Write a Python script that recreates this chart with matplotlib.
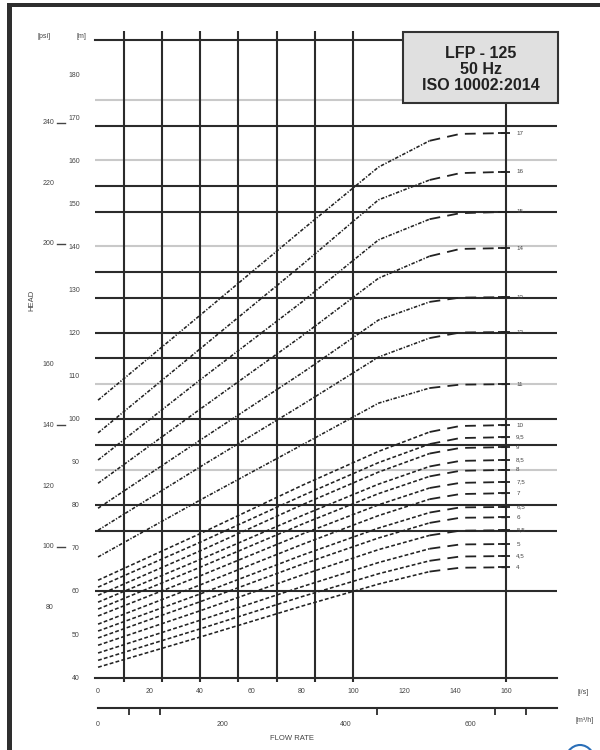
import matplotlib.pyplot as plt
from matplotlib.patches import Rectangle, Circle
from matplotlib.transforms import blended_transform_factory

plt.rcParams['font.family'] = ['Liberation Sans', 'DejaVu Sans']

# flow points (l/s) shared by every curve
flow = [0, 40, 80, 110, 130, 142, 160]

# steep curves, head in m
upper_curves = [
    [104.3, 124.0, 143.8, 158.4, 164.5, 166.1, 166.3],
    [96.7, 116.2, 135.7, 150.8, 155.4, 157.0, 157.3],
    [90.4, 109.0, 127.1, 141.5, 146.3, 147.7, 148.0],
    [85.0, 102.2, 119.2, 132.6, 137.7, 139.4, 139.6],
    [79.2, 95.0, 110.6, 122.9, 127.1, 128.1, 128.2],
    [74.1, 88.8, 103.2, 114.3, 118.7, 120.0, 120.1],
    [67.9, 81.1, 93.9, 103.6, 107.1, 107.9, 108.0],
]
upper_labels = ["17", "16", "15", "14", "13", "12", "11"]

# flatter curves
lower_curves = [
    [62.5, 73.3, 84.5, 92.4, 96.9, 98.3, 98.5],
    [60.9, 71.3, 82.1, 89.8, 94.1, 95.5, 95.7],
    [59.0, 69.3, 80.0, 87.6, 91.9, 93.2, 93.4],
    [57.4, 67.3, 77.5, 84.8, 88.9, 90.2, 90.4],
    [55.8, 65.5, 75.5, 82.6, 86.6, 87.9, 88.1],
    [54.2, 63.5, 73.2, 80.0, 83.9, 85.1, 85.3],
    [52.3, 61.4, 70.8, 77.5, 81.3, 82.5, 82.7],
    [50.7, 59.3, 68.3, 74.6, 78.2, 79.4, 79.5],
    [49.1, 57.5, 66.2, 72.3, 75.8, 77.0, 77.1],
    [47.4, 55.4, 63.7, 69.6, 72.9, 74.0, 74.1],
    [45.6, 53.2, 61.0, 66.6, 69.8, 70.8, 70.9],
    [43.9, 51.2, 58.7, 64.0, 67.0, 68.0, 68.1],
    [42.3, 49.3, 56.5, 61.6, 64.5, 65.4, 65.5],
]
lower_labels = ["10", "9,5", "9", "8,5", "8", "7,5", "7", "6,5", "6",
                "5,5", "5", "4,5", "4"]

# grid
grid_x = [10, 25, 40, 55, 70, 85, 100, 160]
dark_y = [60, 74, 80, 94, 100, 114, 120, 128, 134, 148, 154, 168]
gray_y = [88, 108, 140, 160, 174]

# axis labels
flow_ticks = [0, 20, 40, 60, 80, 100, 120, 140, 160]
head_ticks = [40, 50, 60, 70, 80, 90, 100, 110, 120, 130, 140, 150, 160, 170, 180]
psi_dash = [100, 140, 200, 240]
psi_plain = [80, 120, 160, 220]
m3h_labels = [0, 200, 400, 600]
m3h_marks = [50, 100, 450, 640, 690]

W, H = 600, 750
fig = plt.figure(figsize=(6, 7.5), dpi=100)
ax = fig.add_axes([95 / W, 1 - 678 / H, 462 / W, 638 / H])
ax.set_xlim(-1.2, 180)
ax.set_ylim(39.8, 187.9)

dark = '#2b2b2b'
for s in ['left', 'right']:
    ax.spines[s].set_visible(False)
for s in ['top', 'bottom']:
    ax.spines[s].set_linewidth(1.5)
    ax.spines[s].set_color(dark)

for v in gray_y:
    ax.axhline(v, color='#c9c9c9', lw=1.5, zorder=1)
for v in dark_y:
    ax.axhline(v, color=dark, lw=1.5, zorder=2)
ax.vlines(grid_x, 38.9, 190, color=dark, lw=1.5, zorder=2, clip_on=False)

curves = upper_curves + lower_curves
labels = upper_labels + lower_labels
for i, (ys, lab) in enumerate(zip(curves, labels)):
    rise = (0, (2.2, 1.0, 0.8, 1.0)) if i < len(upper_curves) else (0, (2.4, 1.4))
    ax.plot(flow[:5], ys[:5], ls=rise, lw=1.15, color='#222', zorder=3)
    ax.plot(flow[4:], ys[4:], ls=(0, (6, 4)), lw=1.3, color='#222', zorder=3)
    ax.hlines(ys[-1], flow[-1] - 3, flow[-1] + 1.5, lw=1.3, color='#222', zorder=3)
    ax.text(flow[-1] + 4, ys[-1], lab, fontsize=4.5, color='#444',
            va='center', ha='left')

ax.set_xticks(flow_ticks)
ax.set_yticks(head_ticks)
ax.tick_params(axis='x', length=0, pad=7, labelsize=5, labelcolor='#444')
ax.tick_params(axis='y', length=0, pad=11, labelsize=5, labelcolor='#444')

# psi column
tr = blended_transform_factory(ax.transAxes, ax.transData)
for p in psi_dash + psi_plain:
    v = p * 0.70307
    ax.text(-41 / 462, v, str(p), transform=tr, fontsize=5, color='#444',
            ha='right', va='center')
for p in psi_dash:
    v = p * 0.70307
    ax.plot([-38 / 462, -30 / 462], [v, v], transform=tr, color='#444',
            lw=1.0, clip_on=False)

fig.text(44 / W, 1 - 36 / H, "[psi]", fontsize=5, color='#444', ha='center', va='center')
fig.text(81 / W, 1 - 36 / H, "[m]", fontsize=5, color='#444', ha='center', va='center')
fig.text(32 / W, 1 - 300 / H, "HEAD", fontsize=5.5, color='#444', rotation=90,
         ha='center', va='center')
fig.text(583 / W, 1 - 693 / H, "[l/s]", fontsize=5, color='#444', ha='center', va='center')

# m3/h scale
ax2 = fig.add_axes([98 / W, 1 - 708 / H, 459 / W, 0.0001])
ax2.set_xlim(0, 740)
ax2.patch.set_visible(False)
for s in ['left', 'right', 'top']:
    ax2.spines[s].set_visible(False)
ax2.spines['bottom'].set_linewidth(1.5)
ax2.spines['bottom'].set_color(dark)
ax2.set_yticks([])
ax2.set_xticks(m3h_labels)
ax2.set_xticks(m3h_marks, minor=True)
ax2.tick_params(axis='x', which='major', length=0, pad=9, labelsize=5, labelcolor='#444')
ax2.tick_params(axis='x', which='minor', length=5, width=1.3, color=dark)
fig.text(585 / W, 1 - 720 / H, "[m³/h]", fontsize=5, color='#444', ha='center', va='center')
fig.text(292 / W, 1 - 738 / H, "FLOW RATE", fontsize=5.5, color='#444', ha='center', va='center')

# title box
fig.add_artist(Rectangle((403 / W, 1 - 103 / H), 155 / W, 71 / H, transform=fig.transFigure,
                         facecolor='#e0e0e0', edgecolor='#333', lw=1.5, zorder=5))
for txt, y in zip(["LFP - 125", "50 Hz", "ISO 10002:2014"], [53, 69, 85]):
    fig.text(480.5 / W, 1 - y / H, txt, fontsize=11.5, fontweight='bold', color='#222',
             ha='center', va='center', zorder=6)

# page frame and logo
fig.add_artist(Rectangle((7 / W, 0), 5 / W, 747 / H, transform=fig.transFigure,
                         facecolor='#2e2e2e', edgecolor='none'))
fig.add_artist(Rectangle((7 / W, 1 - 7 / H), 593 / W, 4 / H, transform=fig.transFigure,
                         facecolor='#2e2e2e', edgecolor='none'))
fig.add_artist(Circle((580 / W, 1 - 765 / H), 16 / W, transform=fig.transFigure,
                      facecolor='white', edgecolor='#2a6fb8', lw=1.5))

fig.savefig("out.png", dpi=100)
